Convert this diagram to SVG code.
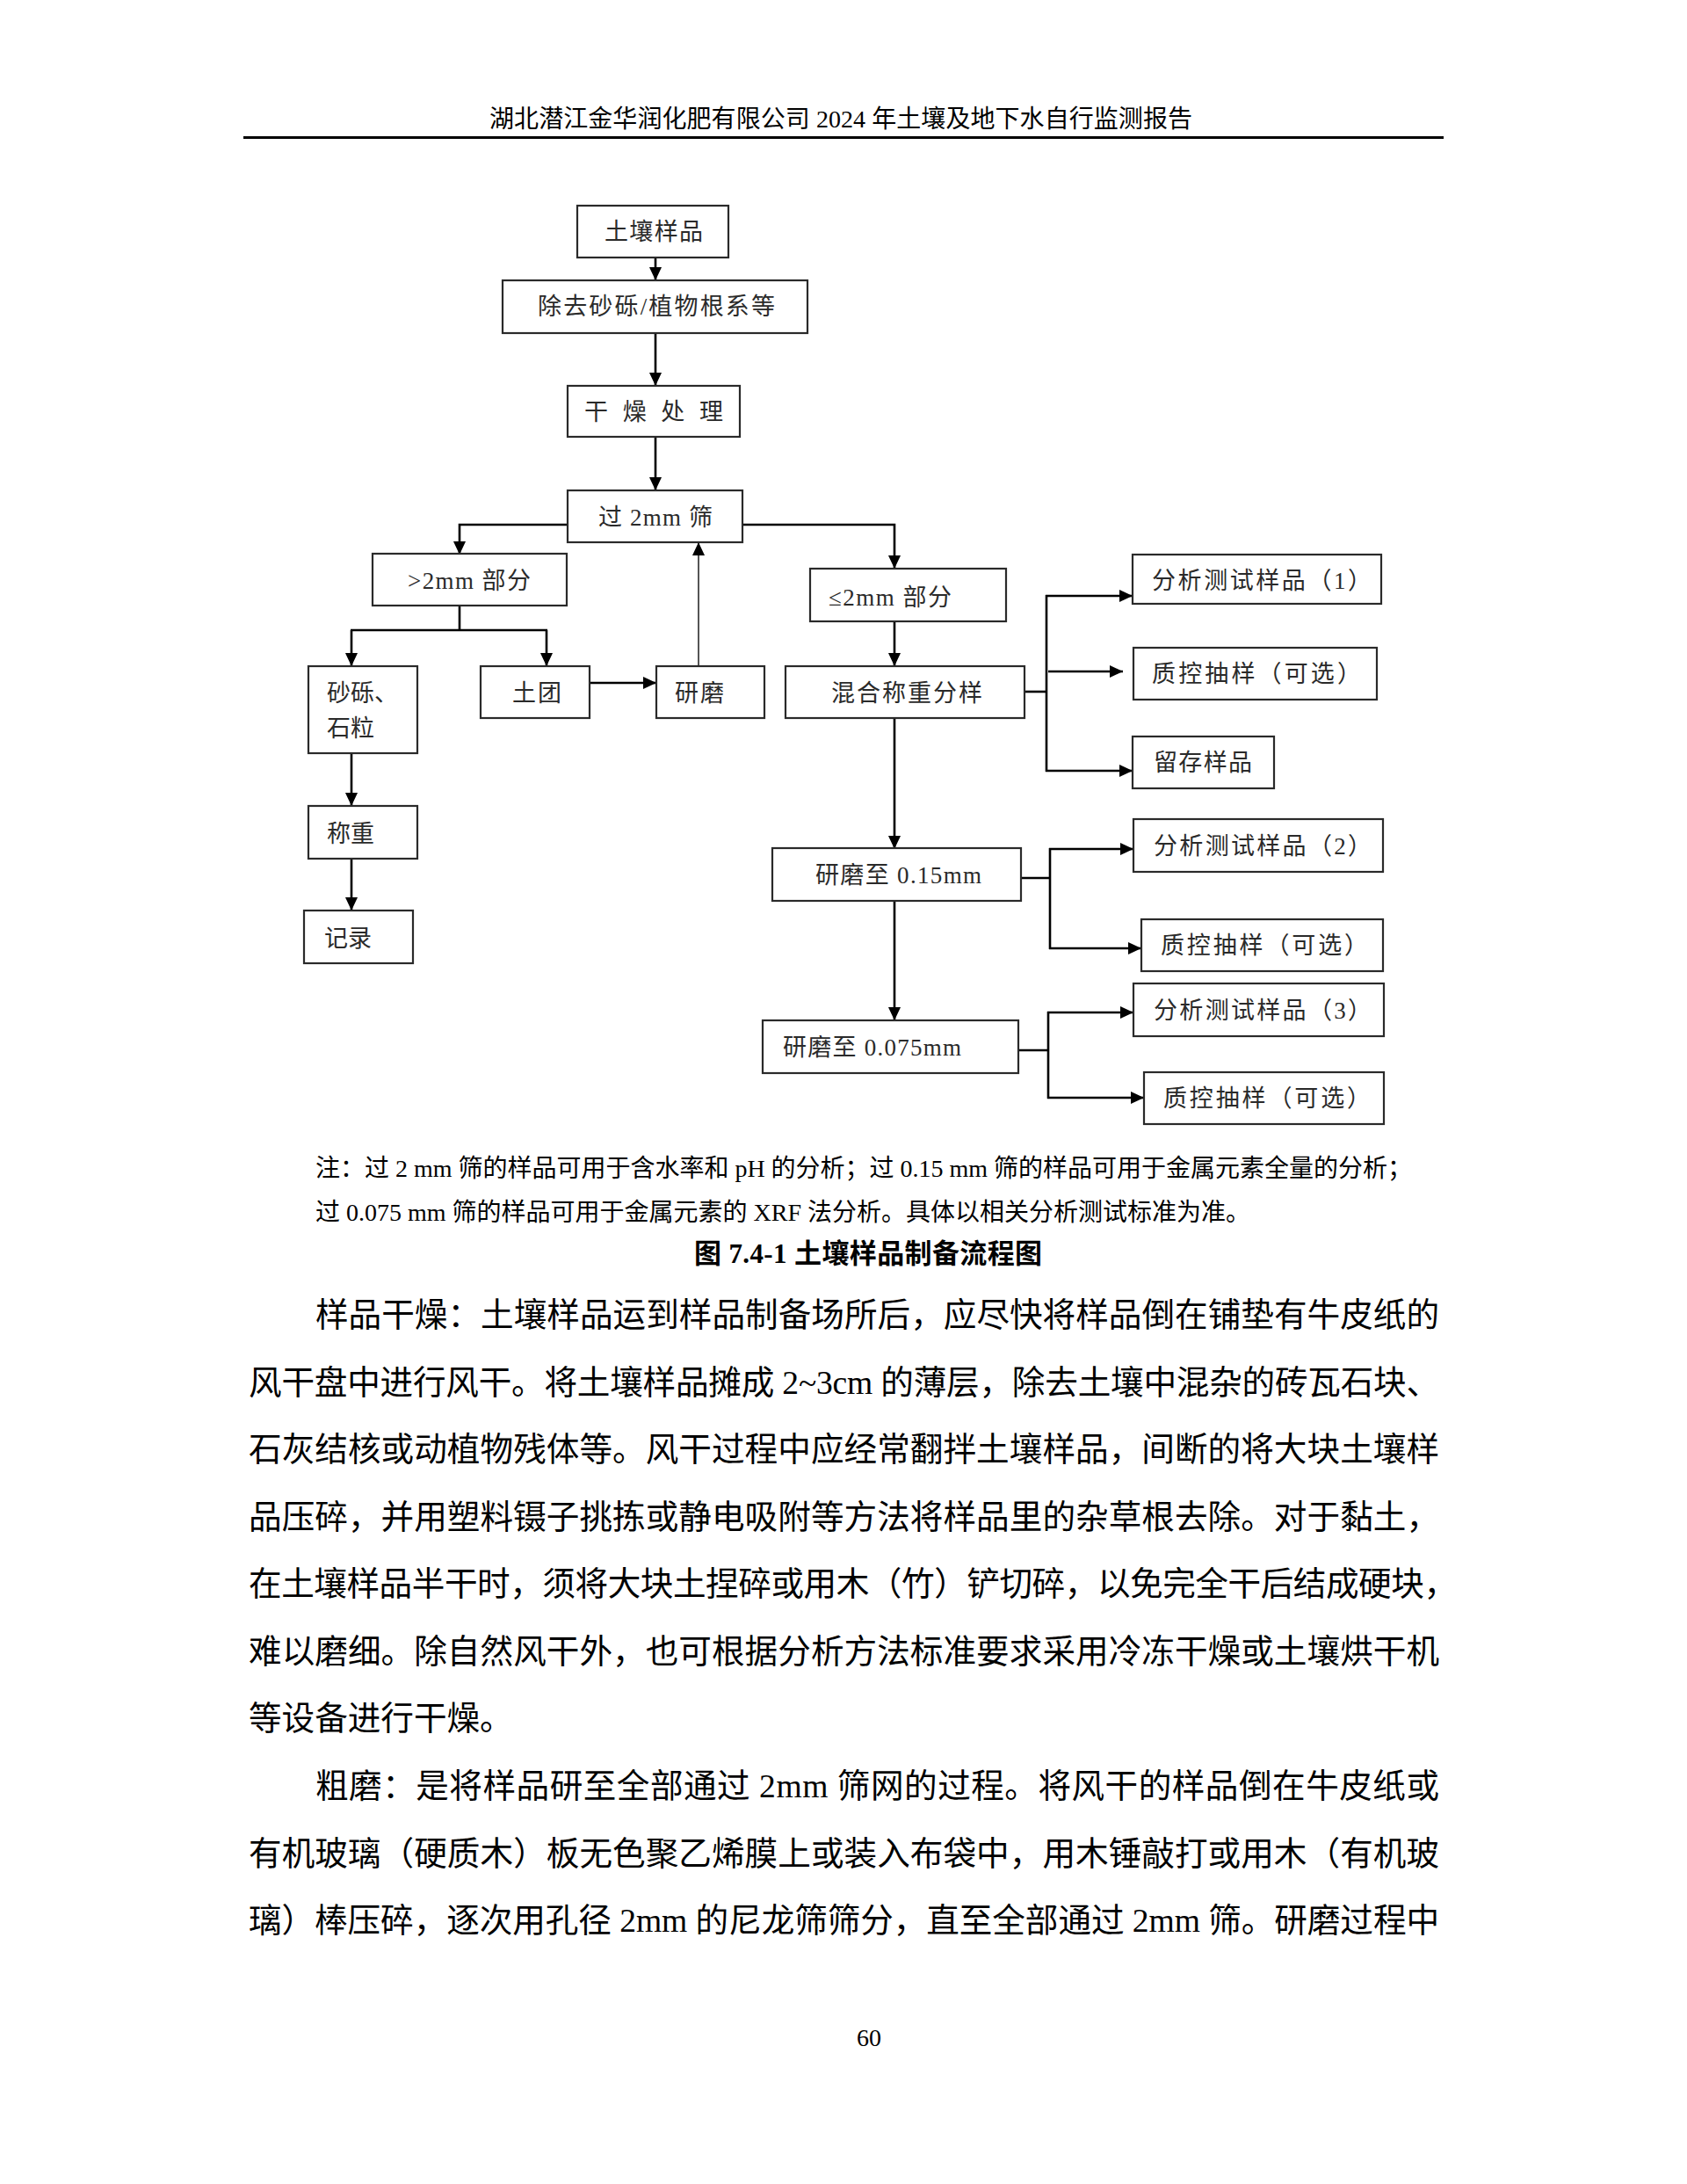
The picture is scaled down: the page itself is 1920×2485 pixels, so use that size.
<svg xmlns="http://www.w3.org/2000/svg" width="1920" height="2485" viewBox="0 0 1920 2485">
<style>
.page{fill:#fff}
.box{fill:#fff;stroke:#2a2a2a;stroke-width:2.2}
.lbl{font-family:'Liberation Serif','Noto Sans CJK SC',serif;font-size:27px;fill:#2a2a2a}
.con{fill:none;stroke:#000;stroke-width:2.6}
.gray{fill:none;stroke:#555;stroke-width:2}
.body{font-family:'Liberation Serif','Noto Sans CJK SC',serif;font-size:37.6px;fill:#000}
.note{font-family:'Liberation Serif','Noto Sans CJK SC',serif;font-size:28px;fill:#000}
.cap{font-family:'Liberation Serif','Noto Sans CJK SC',serif;font-size:31px;font-weight:bold;fill:#000}
.hdr{font-family:'Liberation Serif','Noto Sans CJK SC',serif;font-size:28px;fill:#000}
</style>
<defs>
<marker id="ah" markerUnits="userSpaceOnUse" markerWidth="15" markerHeight="14" refX="15" refY="7" orient="auto">
<path d="M0,0 L15,7 L0,14 z" fill="#000"/>
</marker>
</defs>
<rect class="page" x="0" y="0" width="1920" height="2485"/>
<g id="header">
<text class="hdr" x="557" y="145" textLength="800">湖北潜江金华润化肥有限公司 2024 年土壤及地下水自行监测报告</text>
<line x1="277" y1="156.5" x2="1643" y2="156.5" stroke="#000" stroke-width="3"/>
</g>
<g id="connectors">
<line class="con" x1="746" y1="293" x2="746" y2="319" marker-end="url(#ah)"/>
<line class="con" x1="746" y1="379" x2="746" y2="439" marker-end="url(#ah)"/>
<line class="con" x1="746" y1="497" x2="746" y2="558" marker-end="url(#ah)"/>
<polyline class="con" points="646,597 523,597 523,631" marker-end="url(#ah)"/>
<polyline class="con" points="845,597 1018,597 1018,647" marker-end="url(#ah)"/>
<line class="con" x1="523" y1="689" x2="523" y2="717"/>
<line class="con" x1="399" y1="717" x2="623" y2="717"/>
<line class="con" x1="400" y1="717" x2="400" y2="758" marker-end="url(#ah)"/>
<line class="con" x1="622" y1="717" x2="622" y2="758" marker-end="url(#ah)"/>
<line class="con" x1="671" y1="777" x2="747" y2="777" stroke-width="3.4" marker-end="url(#ah)"/>
<line class="gray" x1="795" y1="758" x2="795" y2="617" marker-end="url(#ah)"/>
<line class="con" x1="400" y1="857" x2="400" y2="917" marker-end="url(#ah)"/>
<line class="con" x1="400" y1="977" x2="400" y2="1036" marker-end="url(#ah)"/>
<line class="con" x1="1018" y1="707" x2="1018" y2="758" marker-end="url(#ah)"/>
<line class="con" x1="1166" y1="787" x2="1191" y2="787"/>
<line class="con" x1="1191" y1="677" x2="1191" y2="878"/>
<line class="con" x1="1190" y1="678" x2="1289" y2="678" marker-end="url(#ah)"/>
<line class="con" x1="1193" y1="764" x2="1278" y2="764" marker-end="url(#ah)"/>
<line class="con" x1="1190" y1="877" x2="1289" y2="877" marker-end="url(#ah)"/>
<line class="con" x1="1018" y1="817" x2="1018" y2="966" marker-end="url(#ah)"/>
<line class="con" x1="1162" y1="999" x2="1195" y2="999"/>
<line class="con" x1="1195" y1="965" x2="1195" y2="1080"/>
<line class="con" x1="1194" y1="966" x2="1290" y2="966" marker-end="url(#ah)"/>
<line class="con" x1="1194" y1="1079" x2="1299" y2="1079" marker-end="url(#ah)"/>
<line class="con" x1="1018" y1="1025" x2="1018" y2="1161" marker-end="url(#ah)"/>
<line class="con" x1="1159" y1="1195" x2="1193" y2="1195"/>
<line class="con" x1="1193" y1="1151" x2="1193" y2="1250"/>
<line class="con" x1="1192" y1="1152" x2="1290" y2="1152" marker-end="url(#ah)"/>
<line class="con" x1="1192" y1="1249" x2="1302" y2="1249" marker-end="url(#ah)"/>
</g>
<g id="n-soil"><rect class="box" x="657" y="234" width="172" height="59"/><text class="lbl" x="688" y="273" textLength="112">土壤样品</text></g>
<g id="n-remove"><rect class="box" x="572" y="319" width="347" height="60"/><text class="lbl" x="612" y="358" textLength="270">除去砂砾/植物根系等</text></g>
<g id="n-dry"><rect class="box" x="646" y="439" width="196" height="58"/><text class="lbl" x="665" y="478" textLength="158">干 燥 处 理</text></g>
<g id="n-sieve"><rect class="box" x="646" y="558" width="199" height="59"/><text class="lbl" x="681" y="598" textLength="130">过 2mm 筛</text></g>
<g id="n-gt2"><rect class="box" x="424" y="630" width="221" height="59"/><text class="lbl" x="464" y="670" textLength="140">&gt;2mm 部分</text></g>
<g id="n-le2"><rect class="box" x="922" y="647" width="223" height="60"/><text class="lbl" x="943" y="689" textLength="140">≤2mm 部分</text></g>
<g id="n-gravel"><rect class="box" x="351" y="758" width="124" height="99"/><text class="lbl" x="372" y="798">砂砾、</text><text class="lbl" x="372" y="838">石粒</text></g>
<g id="n-clod"><rect class="box" x="547" y="758" width="124" height="59"/><text class="lbl" x="583" y="798" textLength="56">土团</text></g>
<g id="n-grind"><rect class="box" x="747" y="758" width="123" height="59"/><text class="lbl" x="768" y="798" textLength="56">研磨</text></g>
<g id="n-mix"><rect class="box" x="894" y="758" width="272" height="59"/><text class="lbl" x="946" y="798" textLength="172">混合称重分样</text></g>
<g id="n-weigh"><rect class="box" x="351" y="917" width="124" height="60"/><text class="lbl" x="372" y="958">称重</text></g>
<g id="n-record"><rect class="box" x="346" y="1036" width="124" height="60"/><text class="lbl" x="369" y="1077">记录</text></g>
<g id="n-a1"><rect class="box" x="1289" y="631" width="283" height="56"/><text class="lbl" x="1311" y="670" textLength="250">分析测试样品（1）</text></g>
<g id="n-q1"><rect class="box" x="1290" y="737" width="277" height="59"/><text class="lbl" x="1311" y="776" textLength="238">质控抽样（可选）</text></g>
<g id="n-keep"><rect class="box" x="1289" y="838" width="161" height="59"/><text class="lbl" x="1313" y="877" textLength="112">留存样品</text></g>
<g id="n-g015"><rect class="box" x="879" y="965" width="283" height="60"/><text class="lbl" x="928" y="1005" textLength="189">研磨至 0.15mm</text></g>
<g id="n-a2"><rect class="box" x="1290" y="932" width="284" height="60"/><text class="lbl" x="1313" y="972" textLength="248">分析测试样品（2）</text></g>
<g id="n-q2"><rect class="box" x="1299" y="1046" width="275" height="59"/><text class="lbl" x="1321" y="1085" textLength="236">质控抽样（可选）</text></g>
<g id="n-g0075"><rect class="box" x="868" y="1161" width="291" height="60"/><text class="lbl" x="891" y="1201" textLength="203">研磨至 0.075mm</text></g>
<g id="n-a3"><rect class="box" x="1290" y="1119" width="285" height="60"/><text class="lbl" x="1313" y="1159" textLength="248">分析测试样品（3）</text></g>
<g id="n-q3"><rect class="box" x="1302" y="1220" width="273" height="59"/><text class="lbl" x="1324" y="1259" textLength="236">质控抽样（可选）</text></g>
<g id="note">
<text class="note" x="359" y="1339" textLength="1248">注：过 2 mm 筛的样品可用于含水率和 pH 的分析；过 0.15 mm 筛的样品可用于金属元素全量的分析；</text>
<text class="note" x="359" y="1389">过 0.075 mm 筛的样品可用于金属元素的 XRF 法分析。具体以相关分析测试标准为准。</text>
<text class="cap" x="790" y="1437" textLength="396">图 7.4-1  土壤样品制备流程图</text>
</g>
<g id="body">
<text class="body" x="359" y="1509" textLength="1279">样品干燥：土壤样品运到样品制备场所后，应尽快将样品倒在铺垫有牛皮纸的</text>
<text class="body" x="283" y="1586" textLength="1355">风干盘中进行风干。将土壤样品摊成 2~3cm 的薄层，除去土壤中混杂的砖瓦石块、</text>
<text class="body" x="283" y="1662" textLength="1355">石灰结核或动植物残体等。风干过程中应经常翻拌土壤样品，间断的将大块土壤样</text>
<text class="body" x="283" y="1739" textLength="1355">品压碎，并用塑料镊子挑拣或静电吸附等方法将样品里的杂草根去除。对于黏土，</text>
<text class="body" x="283" y="1815" textLength="1375">在土壤样品半干时，须将大块土捏碎或用木（竹）铲切碎，以免完全干后结成硬块，</text>
<text class="body" x="283" y="1892" textLength="1355">难以磨细。除自然风干外，也可根据分析方法标准要求采用冷冻干燥或土壤烘干机</text>
<text class="body" x="283" y="1968">等设备进行干燥。</text>
<text class="body" x="359" y="2045" textLength="1279">粗磨：是将样品研至全部通过 2mm 筛网的过程。将风干的样品倒在牛皮纸或</text>
<text class="body" x="283" y="2122" textLength="1355">有机玻璃（硬质木）板无色聚乙烯膜上或装入布袋中，用木锤敲打或用木（有机玻</text>
<text class="body" x="283" y="2198" textLength="1355">璃）棒压碎，逐次用孔径 2mm 的尼龙筛筛分，直至全部通过 2mm 筛。研磨过程中</text>
</g>
<g id="footer">
<text class="hdr" x="975" y="2328" font-size="27">60</text>
</g>
</svg>
